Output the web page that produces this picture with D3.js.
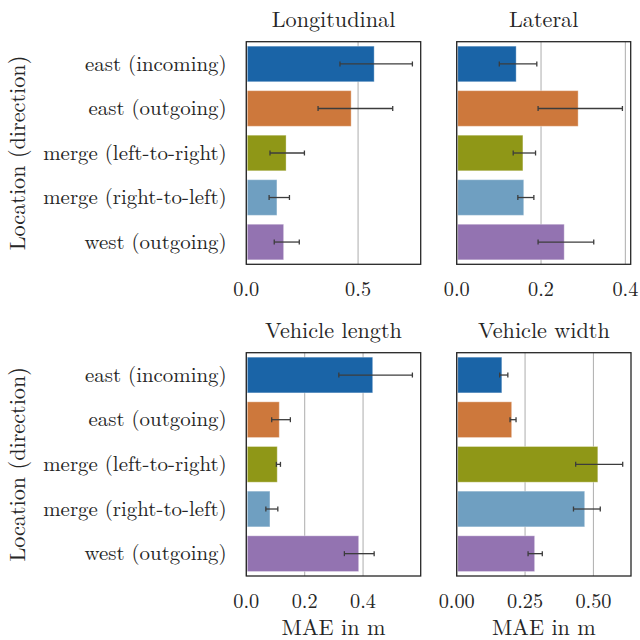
<!DOCTYPE html>
<html><head><meta charset="utf-8">
<script src="https://cdn.jsdelivr.net/npm/d3@7"></script>
<style>body{margin:0;background:#fff}svg{display:block}</style>
</head><body>
<svg id="c" width="640" height="640"></svg>
<script>
const categories = ["east (incoming)", "east (outgoing)", "merge (left-to-right)", "merge (right-to-left)", "west (outgoing)"];
const colors = ["#1a64a7", "#cd783c", "#8f9717", "#6f9fc1", "#9373b1"];

const titles = ["Longitudinal", "Lateral", "Vehicle length", "Vehicle width"];

const longMean = [0.572, 0.469, 0.178, 0.137, 0.167];
const longLo   = [0.419, 0.321, 0.106, 0.102, 0.125];
const longHi   = [0.743, 0.655, 0.260, 0.193, 0.237];

const latMean = [0.141, 0.288, 0.157, 0.159, 0.255];
const latLo   = [0.101, 0.193, 0.134, 0.145, 0.193];
const latHi   = [0.190, 0.393, 0.187, 0.183, 0.325];

const lenMean = [0.433, 0.113, 0.106, 0.081, 0.385];
const lenLo   = [0.317, 0.087, 0.103, 0.067, 0.336];
const lenHi   = [0.569, 0.151, 0.117, 0.108, 0.438];

const widMean = [0.165, 0.201, 0.516, 0.468, 0.285];
const widLo   = [0.157, 0.195, 0.435, 0.427, 0.261];
const widHi   = [0.187, 0.217, 0.607, 0.525, 0.313];

const ticks1 = [0.0, 0.5];
const ticks2 = [0.0, 0.2, 0.4];
const ticks3 = [0.0, 0.2, 0.4];
const ticks4 = [0.00, 0.25, 0.50];

const yLabel = "Location (direction)";
const xLabel = "MAE in m";

const font = "'Latin Modern Roman', 'Liberation Serif', serif";
const tickSize = 20.3, catSize = 20.9, labelSize = 22.2;
const ink = "#262626";
const svg = d3.select("#c");

const panels = [
  {mean: longMean, lo: longLo, hi: longHi, ticks: ticks1, fmt: ".1f", x0: 246.3, x1: 420.7, y0: 41.7, y1: 264.3, left: true, bottom: false},
  {mean: latMean, lo: latLo, hi: latHi, ticks: ticks2, fmt: ".1f", x0: 456.7, x1: 630.7, y0: 41.7, y1: 264.3, left: false, bottom: false},
  {mean: lenMean, lo: lenLo, hi: lenHi, ticks: ticks3, fmt: ".1f", x0: 246.3, x1: 420.7, y0: 352.7, y1: 576, left: true, bottom: true},
  {mean: widMean, lo: widLo, hi: widHi, ticks: ticks4, fmt: ".2f", x0: 456.7, x1: 631, y0: 352.7, y1: 576, left: false, bottom: true}
];

panels.forEach((p, i) => {
  const x = d3.scaleLinear().domain([0, d3.max(p.hi) * 1.05]).range([p.x0, p.x1]);
  const y = d3.scaleBand().domain(categories).range([p.y0, p.y1]).paddingInner(0.2).paddingOuter(0.1);
  const g = svg.append("g");

  // grid
  g.selectAll("line.grid").data(p.ticks).join("line")
    .attr("x1", d => x(d)).attr("x2", d => x(d))
    .attr("y1", p.y0).attr("y2", p.y1)
    .attr("stroke", "#b4b4b4").attr("stroke-width", 1.1);

  // bars
  g.selectAll("rect.bar").data(categories).join("rect")
    .attr("x", x(0) + 1)
    .attr("y", d => y(d))
    .attr("width", (d, j) => x(p.mean[j]) - x(0) - 1)
    .attr("height", y.bandwidth())
    .attr("fill", (d, j) => colors[j])
    .attr("stroke", "#ffffff").attr("stroke-opacity", 0.35).attr("stroke-width", 1);

  // error bars
  const eb = g.selectAll("g.err").data(categories).join("g")
    .attr("stroke", "#3c3c3c").attr("stroke-width", 1.3).attr("fill", "none");
  eb.append("line")
    .attr("x1", (d, j) => x(p.lo[j])).attr("x2", (d, j) => x(p.hi[j]))
    .attr("y1", d => y(d) + y.bandwidth() / 2).attr("y2", d => y(d) + y.bandwidth() / 2);
  eb.append("line")
    .attr("x1", (d, j) => x(p.lo[j])).attr("x2", (d, j) => x(p.lo[j]))
    .attr("y1", d => y(d) + y.bandwidth() / 2 - 2.5).attr("y2", d => y(d) + y.bandwidth() / 2 + 2.5);
  eb.append("line")
    .attr("x1", (d, j) => x(p.hi[j])).attr("x2", (d, j) => x(p.hi[j]))
    .attr("y1", d => y(d) + y.bandwidth() / 2 - 2.5).attr("y2", d => y(d) + y.bandwidth() / 2 + 2.5);

  // frame
  g.append("rect").attr("x", p.x0).attr("y", p.y0)
    .attr("width", p.x1 - p.x0).attr("height", p.y1 - p.y0)
    .attr("fill", "none").attr("stroke", ink).attr("stroke-width", 1.3);

  // x tick labels
  const fmt = d3.format(p.fmt);
  g.selectAll("text.xt").data(p.ticks).join("text")
    .attr("x", d => x(d)).attr("y", p.y1 + 31.5)
    .attr("text-anchor", "middle")
    .style("font-family", font).style("font-size", tickSize + "px").attr("fill", ink)
    .text(d => fmt(d));

  // title
  g.append("text").attr("x", (p.x0 + p.x1) / 2).attr("y", p.y0 - 15)
    .attr("text-anchor", "middle")
    .style("font-family", font).style("font-size", labelSize + "px").attr("fill", ink)
    .text(titles[i]);

  if (p.left) {
    g.selectAll("text.yt").data(categories).join("text")
      .attr("x", p.x0 - 19.6).attr("y", d => y(d) + y.bandwidth() / 2)
      .attr("dy", "0.32em")
      .attr("text-anchor", "end")
      .style("font-family", font).style("font-size", catSize + "px").attr("fill", ink)
      .text(d => d);
    g.append("text")
      .attr("transform", `translate(24.5,${(p.y0 + p.y1) / 2}) rotate(-90)`)
      .attr("text-anchor", "middle")
      .style("font-family", font).style("font-size", labelSize + "px").attr("fill", ink)
      .text(yLabel);
  }
  if (p.bottom) {
    g.append("text").attr("x", (p.x0 + p.x1) / 2).attr("y", p.y1 + 59)
      .attr("text-anchor", "middle")
      .style("font-family", font).style("font-size", labelSize + "px").attr("fill", ink)
      .text(xLabel);
  }
});
</script>
</body></html>
